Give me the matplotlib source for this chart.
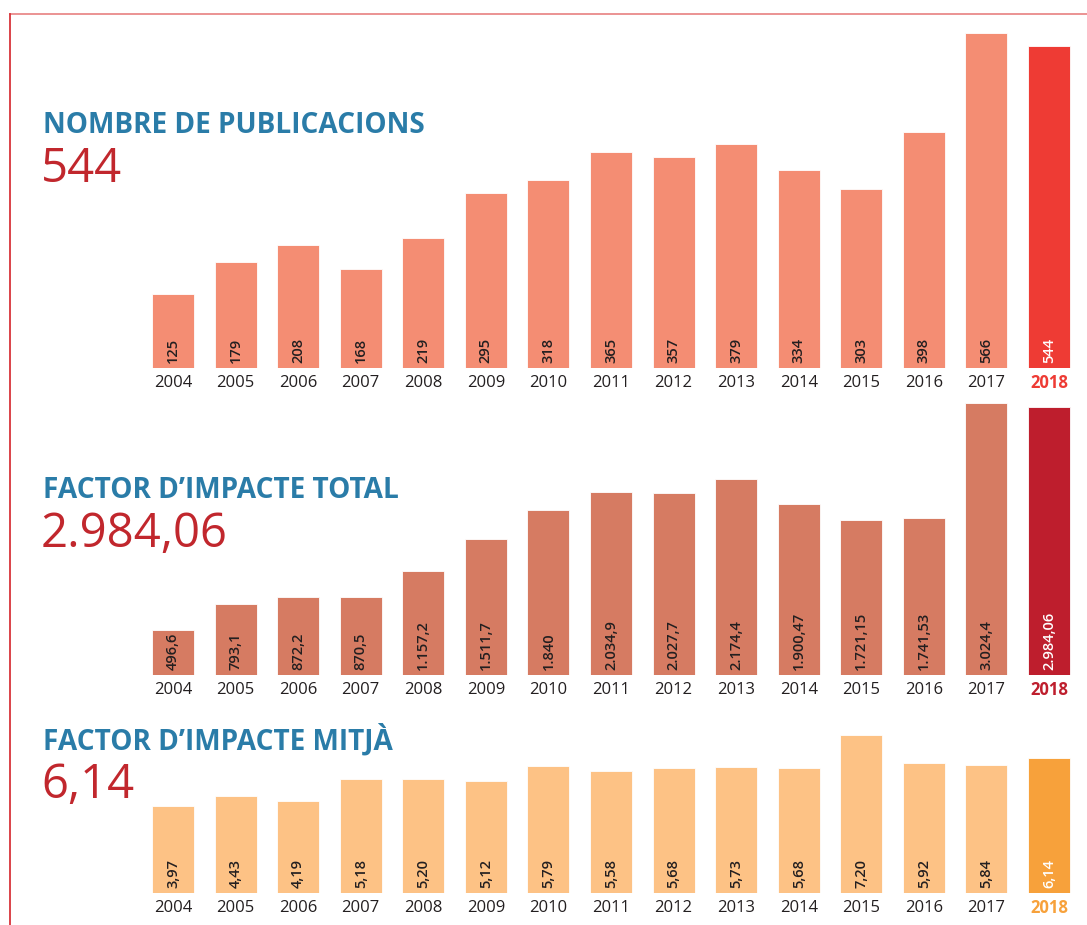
import matplotlib
matplotlib.use('Agg')
import matplotlib.pyplot as plt
import matplotlib.patheffects as pe
from matplotlib.lines import Line2D

# --------------------------------------------------------------------------------------------------------------------
# Data
# --------------------------------------------------------------------------------------------------------------------
years = ['2004', '2005', '2006', '2007', '2008', '2009', '2010', '2011', '2012', '2013', '2014', '2015', '2016',
         '2017', '2018']

publicacions = [125, 179, 208, 168, 219, 295, 318, 365, 357, 379, 334, 303, 398, 566, 544]
publicacions_lbl = ['125', '179', '208', '168', '219', '295', '318', '365', '357', '379', '334', '303', '398',
                    '566', '544']

fi_total = [496.6, 793.1, 872.2, 870.5, 1157.2, 1511.7, 1840, 2034.9, 2027.7, 2174.4, 1900.47, 1721.15, 1741.53,
            3024.4, 2984.06]
fi_total_lbl = ['496,6', '793,1', '872,2', '870,5', '1.157,2', '1.511,7', '1.840', '2.034,9', '2.027,7', '2.174,4',
                '1.900,47', '1.721,15', '1.741,53', '3.024,4', '2.984,06']

fi_mitja = [3.97, 4.43, 4.19, 5.18, 5.20, 5.12, 5.79, 5.58, 5.68, 5.73, 5.68, 7.20, 5.92, 5.84, 6.14]
fi_mitja_lbl = ['3,97', '4,43', '4,19', '5,18', '5,20', '5,12', '5,79', '5,58', '5,68', '5,73', '5,68', '7,20',
                '5,92', '5,84', '6,14']

titles = ['NOMBRE DE PUBLICACIONS', 'FACTOR D\u2019IMPACTE TOTAL', 'FACTOR D\u2019IMPACTE MITJ\u00c0']
big_values = ['544', '2.984,06', '6,14']

# --------------------------------------------------------------------------------------------------------------------
# Figure
# --------------------------------------------------------------------------------------------------------------------
W, H = 1087, 925
fig = plt.figure(figsize=(W / 100, H / 100), dpi=100)
FONT = 'Open Sans'
BLUE = '#2a7ca8'
DARKRED = '#c1272d'
TXT = '#231f20'


def px_rect(left, top, right, bottom):
    return [left / W, (H - bottom) / H, (right - left) / W, (bottom - top) / H]


# border lines top and left
fig.add_artist(Line2D([10 / W, 1], [1 - 14 / H, 1 - 14 / H], color='#e98a8a', lw=1.3, transform=fig.transFigure))
fig.add_artist(Line2D([10 / W, 10 / W], [0, 1 - 14 / H], color='#d8343a', lw=1.3, transform=fig.transFigure))

panels = [
    # values, labels, top px, bottom px, bar colour, highlight colour, title baseline, value baseline
    (publicacions, publicacions_lbl, 33, 368, '#f48d73', '#ee3b34', 133, 182),
    (fi_total, fi_total_lbl, 403, 675, '#d67b62', '#be1e2d', 498, 547),
    (fi_mitja, fi_mitja_lbl, 735, 893, '#fdc285', '#f7a13b', 750, 798),
]

shadow = [pe.SimplePatchShadow(offset=(0.6, -0.6), shadow_rgbFace='#bbbbbb', alpha=0.3), pe.Normal()]

for k, (vals, lbls, top, bottom, col, hcol, tb, vb) in enumerate(panels):
    ax = fig.add_axes(px_rect(141.7, top, 1080.3, bottom))
    x = list(range(len(years)))
    colors = [col] * (len(years) - 1) + [hcol]
    bars = ax.bar(x, vals, width=0.67, color=colors, edgecolor='white', linewidth=0.6)
    for b in bars:
        b.set_path_effects(shadow)
    ax.set_xlim(-0.5, len(years) - 0.5)
    ax.set_ylim(0, max(vals))
    ax.axis('off')

    for i, (v, l) in enumerate(zip(vals, lbls)):
        last = i == len(years) - 1
        ax.annotate(l, xy=(i, 0), xytext=(0, 3.5), textcoords='offset points', rotation=90, ha='center', va='bottom',
                    fontsize=10.5, family=FONT, fontweight='semibold', color='white' if last else TXT)
        ax.annotate(years[i], xy=(i, 0), xycoords=('data', 'axes fraction'), xytext=(0, -10.5),
                    textcoords='offset points', ha='center', va='center', fontsize=12, family=FONT,
                    color=hcol if last else TXT, fontweight='bold' if last else 'normal')

    fig.text(43 / W, 1 - tb / H, titles[k], fontsize=20.2, fontweight='bold', family=FONT, color=BLUE,
             ha='left', va='baseline')
    fig.text(41 / W, 1 - vb / H, big_values[k], fontsize=34, family=FONT, color=DARKRED,
             ha='left', va='baseline')

fig.savefig('out.png', dpi=100)
